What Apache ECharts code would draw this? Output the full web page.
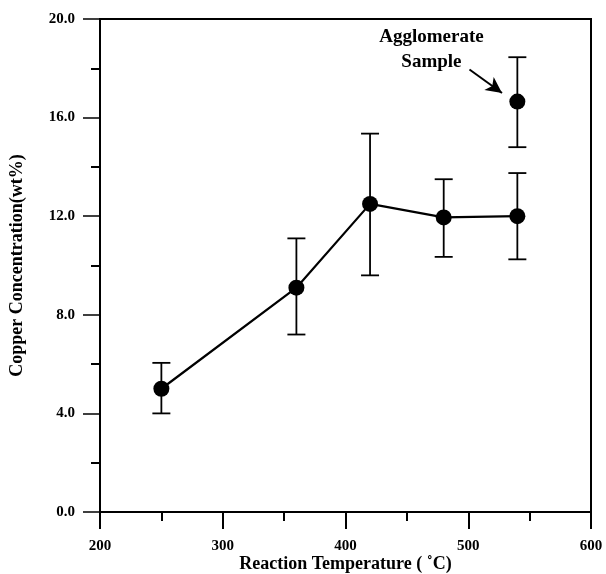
<!DOCTYPE html>
<html>
<head>
<meta charset="utf-8">
<script src="https://cdn.jsdelivr.net/npm/echarts@6/dist/echarts.min.js"></script>
<style>
html,body{margin:0;padding:0;background:#fff;}
#chart{width:606px;height:574px;}
</style>
</head>
<body>
<div id="chart"></div>
<script>
// main series (reaction temperature vs copper concentration)
var temps = [250, 360, 420, 480, 540];
var cu = [5.0, 9.1, 12.5, 11.95, 12.0];
var cuLow = [4.0, 7.2, 9.6, 10.35, 10.25];
var cuHigh = [6.05, 11.1, 15.35, 13.5, 13.75];

// agglomerate sample
var aggTemp = [540];
var aggCu = [16.65];
var aggLow = [14.8];
var aggHigh = [18.45];

// annotation
var noteText = 'Agglomerate\nSample';
var notePos = [470, 18.76];
var arrowFrom = [501, 17.95];
var arrowTo = [527.5, 17.0];

var font = "'Liberation Serif','Times New Roman',serif";

var mychart = echarts.init(document.getElementById('chart'));

var pts = [];
var bars = [];
for (var i = 0; i < temps.length; i++) {
    pts.push([temps[i], cu[i]]);
    bars.push([temps[i], cuLow[i], cuHigh[i]]);
}
var aggPts = [];
for (var j = 0; j < aggTemp.length; j++) {
    aggPts.push([aggTemp[j], aggCu[j]]);
    bars.push([aggTemp[j], aggLow[j], aggHigh[j]]);
}

function errorBar(params, api) {
    var x = api.value(0);
    var lo = api.coord([x, api.value(1)]);
    var hi = api.coord([x, api.value(2)]);
    var w = 9;
    var st = {stroke: '#000', lineWidth: 1.8};
    return {
        type: 'group',
        children: [
            {type: 'line', shape: {x1: lo[0], y1: lo[1], x2: hi[0], y2: hi[1]}, style: st},
            {type: 'line', shape: {x1: lo[0] - w, y1: lo[1], x2: lo[0] + w, y2: lo[1]}, style: st},
            {type: 'line', shape: {x1: hi[0] - w, y1: hi[1], x2: hi[0] + w, y2: hi[1]}, style: st}
        ]
    };
}

option = {
    animation: false,
    backgroundColor: '#fff',
    grid: {
        left: 100, right: 15, top: 19, bottom: 62,
        outerBoundsMode: 'none',
        containLabel: false,
        show: true, borderColor: '#000', borderWidth: 2
    },
    xAxis: {
        type: 'value',
        min: 200, max: 600, interval: 100,
        name: 'Reaction Temperature ( \u02DAC)',
        nameLocation: 'middle',
        nameGap: 43,
        nameMoveOverlap: false,
        nameTextStyle: {fontFamily: font, fontWeight: 'bold', fontSize: 18, color: '#000'},
        axisLine: {lineStyle: {color: '#000', width: 2}},
        axisTick: {inside: false, length: 17, lineStyle: {color: '#000', width: 2}},
        minorTick: {show: true, splitNumber: 2, length: 9, lineStyle: {color: '#000', width: 2}},
        axisLabel: {margin: 27, fontFamily: font, fontWeight: 'bold', fontSize: 15, color: '#000'},
        splitLine: {show: false}
    },
    yAxis: {
        type: 'value',
        min: 0, max: 20, interval: 4,
        name: 'Copper Concentration(wt%)',
        nameLocation: 'middle',
        nameGap: 74,
        nameMoveOverlap: false,
        nameTextStyle: {fontFamily: font, fontWeight: 'bold', fontSize: 18, color: '#000'},
        axisLine: {lineStyle: {color: '#000', width: 2}},
        axisTick: {inside: false, length: 17, lineStyle: {color: '#000', width: 1.5}},
        minorTick: {show: true, splitNumber: 2, length: 9, lineStyle: {color: '#000', width: 2}},
        axisLabel: {
            margin: 25, fontFamily: font, fontWeight: 'bold', fontSize: 15, color: '#000',
            formatter: function (v) { return v.toFixed(1); }
        },
        splitLine: {show: false}
    },
    series: [
        {
            type: 'custom',
            renderItem: errorBar,
            data: bars,
            encode: {x: 0, y: [1, 2]},
            z: 2
        },
        {
            type: 'line',
            data: pts,
            symbol: 'circle',
            symbolSize: 16,
            itemStyle: {color: '#000'},
            lineStyle: {color: '#000', width: 2.2},
            z: 3
        },
        {
            type: 'scatter',
            data: aggPts,
            symbol: 'circle',
            symbolSize: 16,
            itemStyle: {color: '#000', opacity: 1},
            z: 3,
            markPoint: {
                symbol: 'circle',
                symbolSize: 0,
                data: [{coord: notePos, value: noteText}],
                label: {
                    show: true, position: 'inside',
                    formatter: noteText,
                    fontFamily: font, fontWeight: 'bold', fontSize: 19,
                    lineHeight: 25, color: '#000', align: 'center'
                }
            },
            markLine: {
                silent: true,
                symbol: ['none', 'arrow'],
                symbolSize: [12, 16],
                label: {show: false},
                lineStyle: {color: '#000', width: 2, type: 'solid'},
                data: [[{coord: arrowFrom}, {coord: arrowTo}]]
            }
        }
    ]
};
mychart.setOption(option);
</script>
</body>
</html>
